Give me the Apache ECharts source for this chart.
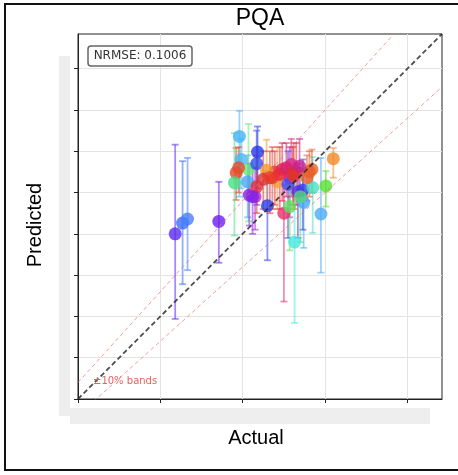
<!DOCTYPE html>
<html>
<head>
<meta charset="utf-8">
<script src="https://cdn.jsdelivr.net/npm/echarts@6/dist/echarts.min.js"></script>
<style>
  html, body { margin: 0; padding: 0; background: #fff; }
  #chart { width: 458px; height: 475px; }
</style>
</head>
<body>
<div id="chart"></div>
<script>
    'use strict';
    // values (tick labels are redacted in the reference)
    var actualVals = [3.18, 3.27, 3.33, 3.71, 3.96, 3.92, 3.90, 3.98, 4.07, 4.18, 4.17, 4.06, 4.08, 4.15,
        4.17, 4.30, 4.39, 4.48, 4.59, 4.65, 4.57, 4.50, 4.63, 4.74, 4.73, 4.67, 4.85, 4.95, 5.01, 5.10,
        4.81, 4.78, 4.42, 4.57, 4.36, 4.29, 4.25, 4.55, 4.62, 3.95, 4.70, 4.12,
        4.45, 4.53, 4.61, 4.33, 4.84, 4.69];
    var predVals = [4.00, 4.13, 4.18, 4.15, 5.18, 4.74, 4.62, 4.90, 4.78, 4.99, 4.85, 4.63, 4.47, 4.45,
        4.57, 4.34, 4.75, 4.78, 4.84, 4.75, 4.68, 4.25, 3.90, 4.38, 4.53, 4.51, 4.56, 4.24, 4.58, 4.91,
        4.75, 4.68, 4.63, 4.33, 4.68, 4.77, 4.66, 4.60, 4.70, 4.80, 4.45, 4.45,
        4.72, 4.80, 4.72, 4.68, 4.78, 4.82];
    var predLow = [2.97, 3.39, 3.56, 3.65, 4.45, 4.41, 3.98, 4.55, 4.15, 4.55, 4.35, 4.20, 4.10, 4.05,
        4.25, 3.68, 4.35, 4.40, 4.45, 4.35, 4.20, 3.18, 2.92, 3.83, 4.05, 3.95, 4.01, 3.53, 4.33, 4.68,
        4.45, 4.40, 4.30, 3.80, 4.30, 4.40, 4.30, 3.95, 4.30, 4.50, 3.90, 4.00,
        4.30, 4.45, 4.35, 4.25, 4.50, 4.40];
    var predHigh = [5.08, 4.88, 4.92, 4.63, 5.49, 5.04, 5.22, 5.15, 5.33, 5.30, 5.25, 4.95, 4.85, 4.80,
        4.95, 4.75, 5.00, 5.10, 5.15, 5.10, 5.05, 4.60, 4.70, 4.80, 4.90, 4.85, 4.93, 4.92, 4.76, 5.04,
        5.00, 4.95, 5.05, 4.70, 5.05, 5.14, 5.00, 5.00, 5.10, 5.05, 4.80, 4.80,
        5.05, 5.10, 5.05, 5.00, 5.02, 5.15];
    var pointColors = ['#5b2cf0', '#3a6cf5', '#4a80f8', '#6a1ef0', '#45b4f5', '#e84a22', '#45e08a',
        '#4ab8f0', '#66e87a', '#2838e8', '#3050ea', '#4aa8f2', '#8a22e0', '#c020d0', '#e03040',
        '#3040f0', '#e83030', '#e02858', '#d82a8a', '#e03030', '#b020c8', '#e8306a', '#48e8e0',
        '#4aa8f8', '#3040e8', '#5030e8', '#48e0c8', '#50aaf5', '#58e030', '#f08a28', '#e85a28',
        '#e86030', '#f0a040', '#60e060', '#e04040', '#f09a30', '#d83030', '#4050f0', '#e84040',
        '#e05030', '#58d878', '#7a28e8',
        '#e82a3a', '#d8206a', '#e03028', '#e83a2a', '#e8602a', '#c82090'];
    var axisMin = 2, axisMax = 6.42;
    var xTicks = [2, 3, 4, 5, 6];
    var yTicks = [2, 2.5, 3, 3.5, 4, 4.5, 5, 5.5, 6];
    var bandFactor = 0.1;

    var chart = echarts.init(document.getElementById('chart'));

    var pointData = actualVals.map(function (a, i) {
        return {value: [a, predVals[i]], itemStyle: {color: pointColors[i]}};
    });
    var barData = actualVals.map(function (a, i) {
        return [a, predLow[i], predHigh[i]];
    });

    var renderErrorBar = function (params, api) {
        var x = api.value(0);
        var pLo = api.coord([x, api.value(1)]);
        var pHi = api.coord([x, api.value(2)]);
        var cap = 3.5;
        var col = pointColors[params.dataIndex];
        var st = {stroke: col, lineWidth: 1.8, opacity: 0.55};
        return {
            type: 'group',
            children: [
                {type: 'line', shape: {x1: pLo[0], y1: pLo[1], x2: pHi[0], y2: pHi[1]}, style: st},
                {type: 'line', shape: {x1: pLo[0] - cap, y1: pLo[1], x2: pLo[0] + cap, y2: pLo[1]}, style: st},
                {type: 'line', shape: {x1: pHi[0] - cap, y1: pHi[1], x2: pHi[0] + cap, y2: pHi[1]}, style: st}
            ]
        };
    };

    var axisCommon = {
        type: 'value',
        min: axisMin,
        max: axisMax,
        axisLine: {show: true, onZero: false, lineStyle: {color: '#222', width: 1}},
        axisTick: {show: true, inside: false, length: 4, lineStyle: {color: '#222'}},
        axisLabel: {show: false},
        splitLine: {show: true, lineStyle: {color: '#e3e3e3', width: 1}}
    };

    chart.setOption({
        animation: false,
        grid: {left: 78, top: 34, width: 364, height: 365, show: true, borderColor: '#222', borderWidth: 1,
            backgroundColor: '#fff'},
        xAxis: Object.assign({}, axisCommon, {interval: 1,
            axisTick: Object.assign({}, axisCommon.axisTick, {customValues: xTicks})}),
        yAxis: Object.assign({}, axisCommon, {interval: 0.5,
            axisTick: Object.assign({}, axisCommon.axisTick, {customValues: yTicks})}),
        graphic: [
            {type: 'rect', shape: {x: 5, y: 4, width: 460, height: 466},
                style: {fill: 'none', stroke: '#111', lineWidth: 2}, z: -10},
            {type: 'rect', shape: {x: 59, y: 56, width: 11, height: 360}, style: {fill: '#eeeeee'}, z: -5},
            {type: 'rect', shape: {x: 70, y: 408, width: 360, height: 16}, style: {fill: '#eeeeee'}, z: -5},
            {type: 'text', style: {text: 'PQA', x: 260, y: 7,
                font: '23px "Liberation Sans", Arial, sans-serif', fill: '#000', textAlign: 'center'}},
            {type: 'text', style: {text: 'Actual', x: 256, y: 428,
                font: '20px "Liberation Sans", Arial, sans-serif', fill: '#000', textAlign: 'center'}},
            {type: 'text', x: 25, y: 225, rotation: Math.PI / 2, style: {text: 'Predicted',
                font: '20px "Liberation Sans", Arial, sans-serif', fill: '#000', textAlign: 'center',
                textVerticalAlign: 'top'}},
            {type: 'rect', shape: {x: 88, y: 46, width: 104, height: 20, r: 3},
                style: {fill: '#fff', stroke: '#666', lineWidth: 1.5}, z: 100},
            {type: 'text', z: 101, style: {text: 'NRMSE: 0.1006', x: 140, y: 56,
                font: '12px "DejaVu Sans", sans-serif', fill: '#333', textAlign: 'center',
                textVerticalAlign: 'middle'}},
            {type: 'text', z: 101, style: {text: '±10% bands', x: 93, y: 381,
                font: '10px "DejaVu Sans", sans-serif', fill: '#e86060', textVerticalAlign: 'middle'}}
        ],
        series: [
            {type: 'custom', renderItem: renderErrorBar, data: barData, encode: {x: 0, y: [1, 2]}, z: 2},
            {type: 'scatter', data: pointData, symbolSize: 13, itemStyle: {opacity: 0.8}, z: 3},
            {type: 'line', data: [[axisMin, axisMin], [axisMax, axisMax]], symbol: 'none', z: 5,
                lineStyle: {color: '#222', width: 1.8, type: [5, 3], opacity: 0.8}},
            {type: 'line', data: [[axisMin, axisMin * (1 + bandFactor)], [axisMax, axisMax * (1 + bandFactor)]],
                symbol: 'none', z: 5, lineStyle: {color: '#f07070', width: 1, type: [4, 3], opacity: 0.7}},
            {type: 'line', data: [[axisMin, axisMin * (1 - bandFactor)], [axisMax, axisMax * (1 - bandFactor)]],
                symbol: 'none', z: 5, lineStyle: {color: '#f07070', width: 1, type: [4, 3], opacity: 0.7}}
        ]
    });
</script>
</body>
</html>
